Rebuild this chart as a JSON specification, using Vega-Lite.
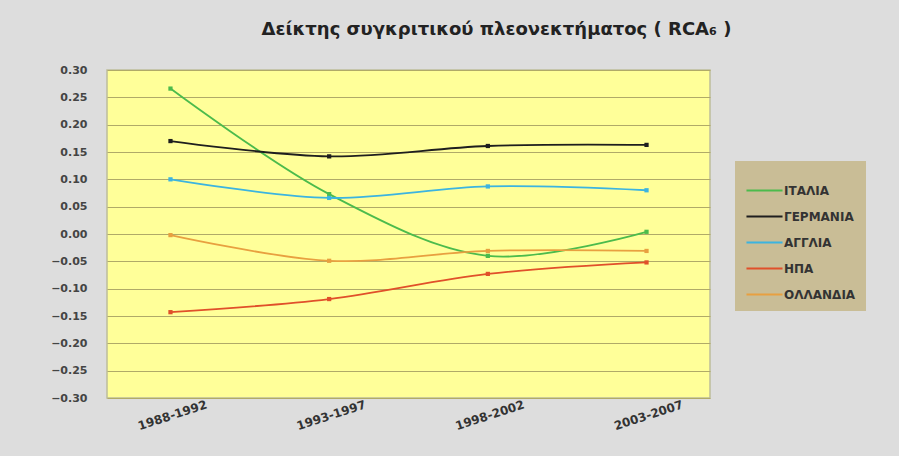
{
  "$schema": "https://vega.github.io/schema/vega-lite/v6.json",
  "width": 603,
  "height": 328,
  "autosize": {"type": "none"},
  "padding": {"left": 107, "top": 70, "right": 189, "bottom": 58},
  "background": "#dddddd",
  "title": {
    "text": "Δείκτης συγκριτικού πλεονεκτήματος  ( RCA₆ )",
    "anchor": "middle",
    "frame": "group",
    "dx": 88,
    "offset": 25,
    "font": "DejaVu Sans",
    "fontSize": 18,
    "fontWeight": "bold",
    "color": "#222222"
  },
  "config": {
    "view": {"fill": "#ffff99", "stroke": "#bdbd9a", "strokeWidth": 1.5},
    "font": "DejaVu Sans"
  },
  "data": {
    "values": [
      {"period": "1988-1992", "country": "ΙΤΑΛΙΑ", "value": 0.266},
      {"period": "1993-1997", "country": "ΙΤΑΛΙΑ", "value": 0.073},
      {"period": "1998-2002", "country": "ΙΤΑΛΙΑ", "value": -0.040},
      {"period": "2003-2007", "country": "ΙΤΑΛΙΑ", "value": 0.004},
      {"period": "1988-1992", "country": "ΓΕΡΜΑΝΙΑ", "value": 0.170},
      {"period": "1993-1997", "country": "ΓΕΡΜΑΝΙΑ", "value": 0.142},
      {"period": "1998-2002", "country": "ΓΕΡΜΑΝΙΑ", "value": 0.161},
      {"period": "2003-2007", "country": "ΓΕΡΜΑΝΙΑ", "value": 0.163},
      {"period": "1988-1992", "country": "ΑΓΓΛΙΑ", "value": 0.100},
      {"period": "1993-1997", "country": "ΑΓΓΛΙΑ", "value": 0.066},
      {"period": "1998-2002", "country": "ΑΓΓΛΙΑ", "value": 0.087},
      {"period": "2003-2007", "country": "ΑΓΓΛΙΑ", "value": 0.080},
      {"period": "1988-1992", "country": "ΗΠΑ", "value": -0.143},
      {"period": "1993-1997", "country": "ΗΠΑ", "value": -0.119},
      {"period": "1998-2002", "country": "ΗΠΑ", "value": -0.073},
      {"period": "2003-2007", "country": "ΗΠΑ", "value": -0.052},
      {"period": "1988-1992", "country": "ΟΛΛΑΝΔΙΑ", "value": -0.002},
      {"period": "1993-1997", "country": "ΟΛΛΑΝΔΙΑ", "value": -0.049},
      {"period": "1998-2002", "country": "ΟΛΛΑΝΔΙΑ", "value": -0.031},
      {"period": "2003-2007", "country": "ΟΛΛΑΝΔΙΑ", "value": -0.031}
    ]
  },
  "encoding": {
    "x": {
      "field": "period",
      "type": "ordinal",
      "scale": {"type": "point", "padding": 0.4},
      "axis": {
        "title": null,
        "labelAngle": -18,
        "labelAlign": "center",
        "labelBaseline": "top",
        "labelPadding": 12,
        "labelFontSize": 12,
        "labelFontWeight": "bold",
        "labelColor": "#333333",
        "ticks": false,
        "domain": false,
        "grid": false
      }
    },
    "y": {
      "field": "value",
      "type": "quantitative",
      "scale": {"domain": [-0.3, 0.3], "nice": false, "zero": false},
      "axis": {
        "title": null,
        "values": [-0.3, -0.25, -0.2, -0.15, -0.1, -0.05, 0, 0.05, 0.1, 0.15, 0.2, 0.25, 0.3],
        "format": ".2f",
        "labelFontSize": 11,
        "labelFontWeight": "bold",
        "labelColor": "#444444",
        "labelPadding": 20,
        "ticks": false,
        "domain": false,
        "grid": true,
        "gridColor": "#b0aa68",
        "gridWidth": 1.2
      }
    },
    "color": {
      "field": "country",
      "type": "nominal",
      "sort": ["ΙΤΑΛΙΑ", "ΓΕΡΜΑΝΙΑ", "ΑΓΓΛΙΑ", "ΗΠΑ", "ΟΛΛΑΝΔΙΑ"],
      "scale": {
        "domain": ["ΙΤΑΛΙΑ", "ΓΕΡΜΑΝΙΑ", "ΑΓΓΛΙΑ", "ΗΠΑ", "ΟΛΛΑΝΔΙΑ"],
        "range": ["#4cbb4c", "#1e1e1e", "#3cb4e0", "#e0502a", "#e8a040"]
      },
      "legend": {
        "title": null,
        "orient": "none",
        "legendX": 628,
        "legendY": 91,
        "fillColor": "#c9bd96",
        "padding": 10,
        "symbolType": "stroke",
        "symbolSize": 1300,
        "symbolStrokeWidth": 2,
        "labelFontSize": 12,
        "labelFontWeight": "bold",
        "labelColor": "#333333",
        "rowPadding": 0,
        "labelOffset": 0
      }
    }
  },
  "layer": [
    {
      "mark": {"type": "line", "interpolate": "catmull-rom", "strokeWidth": 1.8}
    },
    {
      "mark": {"type": "point", "filled": true, "size": 18, "shape": "square", "opacity": 1}
    }
  ]
}
